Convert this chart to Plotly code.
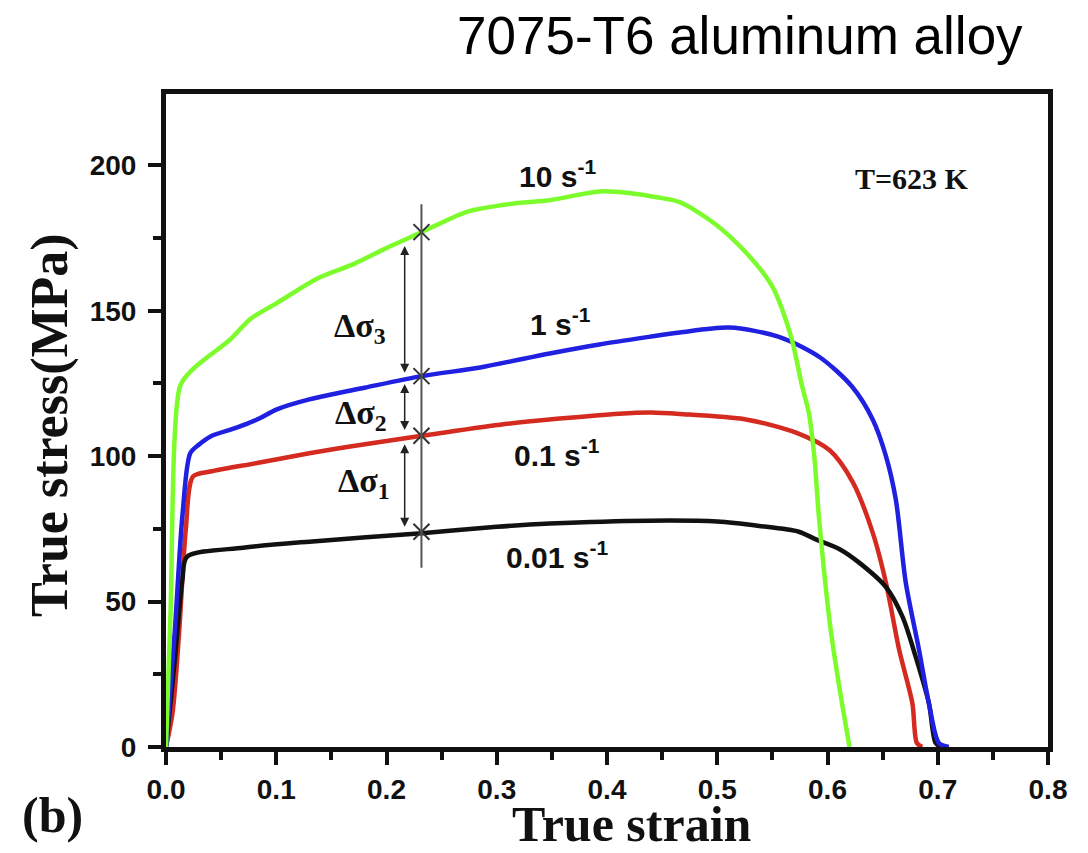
import plotly.graph_objects as go

# ---------------- data ----------------
strain_10 = [0, 0.004, 0.0127, 0.022, 0.034, 0.058, 0.076, 0.1, 0.137, 0.17, 0.197, 0.232,
             0.273, 0.318, 0.348, 0.393, 0.42, 0.445, 0.466, 0.496, 0.526, 0.55, 0.567,
             0.577, 0.583, 0.588, 0.592, 0.597, 0.603, 0.611, 0.62]
stress_10 = [0, 45, 124, 129, 133, 140, 147, 152.5, 161, 166, 171, 177,
             184, 187, 188, 191, 190.5, 189, 187.3, 180.4, 170, 158.3, 141,
             124, 115, 100, 80, 60, 40, 20, 0]

strain_1 = [0, 0.008, 0.015, 0.022, 0.03, 0.04, 0.064, 0.085, 0.1, 0.13, 0.18, 0.232,
            0.285, 0.348, 0.393, 0.438, 0.466, 0.511, 0.556, 0.593, 0.622, 0.641, 0.653,
            0.662, 0.671, 0.683, 0.692, 0.701, 0.71]
stress_1 = [0, 40, 80, 101, 104, 106.7, 109.8, 113, 116, 119.5, 123.5, 127.5,
            130.5, 135.3, 138.4, 141, 142.5, 144.2, 141, 134, 124, 112.6, 100,
            85, 56.5, 33.4, 15, 1.4, 0]

strain_01 = [0, 0.006, 0.012, 0.018, 0.0245, 0.04, 0.085, 0.13, 0.167, 0.232, 0.303, 0.357,
             0.411, 0.44, 0.466, 0.526, 0.572, 0.602, 0.623, 0.641, 0.653, 0.665, 0.677,
             0.681, 0.686]
stress_01 = [0, 12, 40, 75, 93, 94.7, 97.8, 101, 103.3, 107, 110.8, 112.9,
             114.6, 115, 114.5, 112.6, 108, 102, 91, 73.7, 56.5, 33.4, 15,
             1.4, 0]

strain_001 = [0, 0.008, 0.015, 0.019, 0.07, 0.13, 0.232, 0.30, 0.348, 0.438, 0.50, 0.538,
              0.574, 0.59, 0.611, 0.629, 0.653, 0.668, 0.68, 0.692, 0.698, 0.703]
stress_001 = [0, 30, 58, 65.4, 68.5, 70.6, 73.5, 75.7, 76.8, 77.8, 77.5, 76,
              74, 71.3, 68, 63.3, 55, 44.8, 31, 15, 1.4, 0]

rate_labels = ["10 s<sup>-1</sup>", "1 s<sup>-1</sup>", "0.1 s<sup>-1</sup>", "0.01 s<sup>-1</sup>"]
label_strain = [0.3547, 0.358, 0.3547, 0.355]
label_stress = [196.9, 146, 101.2, 66.1]

marker_strain = 0.2317
marker_stress = [177, 127.5, 107, 74]
line_span = [61.6, 186.6]

arrow_strain = 0.2165
arrow_from = [172.8, 125.3, 104.6]
arrow_to = [128.7, 109.0, 75.7]
delta_labels = ["Δσ<sub>3</sub>", "Δσ<sub>2</sub>", "Δσ<sub>1</sub>"]

x_ticks = [0.0, 0.1, 0.2, 0.3, 0.4, 0.5, 0.6, 0.7, 0.8]
y_ticks = [0, 50, 100, 150, 200]

# ---------------- figure ----------------
W, H = 1088, 853
L, R, T, B = 166, 40, 94, 106
pw, ph = W - L - R, H - T - B

def px2paper_x(px):
    return (px - L) / pw

def px2paper_y(py):
    return (H - B - py) / ph

serif = "Liberation Serif, Times New Roman, serif"
sans = "Liberation Sans, Arial, sans-serif"

fig = go.Figure()
series = [
    (strain_01, stress_01, "#d42a20"),
    (strain_001, stress_001, "#111111"),
    (strain_1, stress_1, "#2020e0"),
    (strain_10, stress_10, "#7CFC2A"),
]
for xs, ys, c in series:
    fig.add_trace(go.Scatter(x=xs, y=ys, mode="lines",
                             line=dict(color=c, width=4.5, shape="spline", smoothing=0.8),
                             hoverinfo="skip", showlegend=False))

# vertical gray line
fig.add_shape(type="line", x0=marker_strain, x1=marker_strain, y0=line_span[0], y1=line_span[1],
              xref="x", yref="y", line=dict(color="#555555", width=2))

# x markers
fig.add_trace(go.Scatter(x=[marker_strain] * len(marker_stress), y=marker_stress, mode="markers",
                         marker=dict(symbol="x-thin", size=16, line=dict(color="#333333", width=2)),
                         hoverinfo="skip", showlegend=False))

annotations = []
for a0, a1 in zip(arrow_from, arrow_to):
    annotations.append(dict(x=arrow_strain, y=a1, ax=arrow_strain, ay=a0, xref="x", yref="y",
                            axref="x", ayref="y", text="", showarrow=True, arrowhead=2,
                            arrowside="end+start", arrowsize=1.2, arrowwidth=1.5, arrowcolor="#222222"))

delta_px = [(360, 328), (361, 415), (364, 483)]
for (dx, dy), t in zip(delta_px, delta_labels):
    annotations.append(dict(x=px2paper_x(dx), y=px2paper_y(dy), xref="paper", yref="paper",
                            text=t, showarrow=False, xanchor="center", yanchor="middle",
                            font=dict(family=serif, size=34, color="#111111", weight="bold")))

for t, lx, ly in zip(rate_labels, label_strain, label_stress):
    annotations.append(dict(x=lx, y=ly, xref="x", yref="y", text=t, showarrow=False,
                            xanchor="center", yanchor="middle",
                            font=dict(family=sans, size=30, color="#111111", weight="bold")))

annotations.append(dict(x=0.677, y=195.5, xref="x", yref="y", text="T=623 K", showarrow=False,
                        font=dict(family=serif, size=30, color="#111111", weight="bold")))

annotations.append(dict(x=px2paper_x(1025), y=px2paper_y(35), xref="paper", yref="paper",
                        text="7075-T6 aluminum alloy", showarrow=False, xanchor="right",
                        yanchor="middle", font=dict(family=sans, size=53, color="#000000")))

annotations.append(dict(x=px2paper_x(632), y=px2paper_y(824), xref="paper", yref="paper",
                        text="True strain", showarrow=False, xanchor="center", yanchor="middle",
                        font=dict(family=serif, size=50, color="#111111", weight="bold")))

annotations.append(dict(x=px2paper_x(50), y=px2paper_y(425), xref="paper", yref="paper",
                        text="True stress(MPa)", showarrow=False, textangle=-90,
                        xanchor="center", yanchor="middle",
                        font=dict(family=serif, size=52, color="#111111", weight="bold")))

annotations.append(dict(x=px2paper_x(52), y=px2paper_y(815), xref="paper", yref="paper",
                        text="(b)", showarrow=False, xanchor="center", yanchor="middle",
                        font=dict(family=serif, size=50, color="#111111", weight="bold")))

fig.update_layout(
    width=W, height=H,
    margin=dict(l=L, r=R, t=T, b=B),
    paper_bgcolor="white", plot_bgcolor="white",
    annotations=annotations,
    showlegend=False,
)
fig.update_xaxes(range=[0, 0.8], tickvals=x_ticks, ticktext=[f"{v:.1f}" for v in x_ticks],
                 showgrid=False, zeroline=False, showline=True, linewidth=5, linecolor="#111111",
                 mirror=True, ticks="outside", ticklen=13, tickwidth=4, tickcolor="#111111",
                 tickfont=dict(family=sans, size=28, color="#111111", weight="bold"),
                 minor=dict(ticks="outside", dtick=0.05, ticklen=8, tickwidth=4, tickcolor="#111111"))
fig.update_yaxes(range=[0, 224.5], tickvals=y_ticks,
                 showgrid=False, zeroline=False, showline=True, linewidth=5, linecolor="#111111",
                 mirror=True, ticks="outside", ticklen=13, tickwidth=4, tickcolor="#111111",
                 tickfont=dict(family=sans, size=28, color="#111111", weight="bold"),
                 ticklabelstandoff=6,
                 minor=dict(ticks="outside", tick0=0, dtick=25, ticklen=8, tickwidth=4, tickcolor="#111111"))

fig.write_html("out.html")
